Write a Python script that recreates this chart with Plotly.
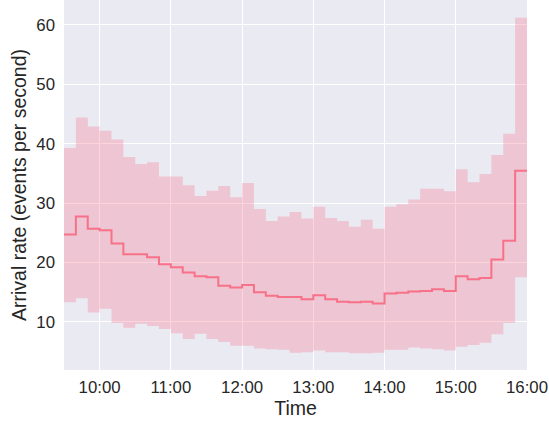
import plotly.graph_objects as go
import pandas as pd

bin_start = pd.date_range("2020-01-02 09:30", "2020-01-02 15:50", freq="10min")

mean_rate = [24.7, 27.75, 25.7, 25.45, 23.2, 21.4, 21.4, 20.9, 19.7, 19.2,
             18.3, 17.7, 17.5, 16.1, 15.8, 16.2, 15.0, 14.4, 14.2, 14.2,
             13.8, 14.5, 13.8, 13.4, 13.3, 13.4, 13.1, 14.8, 14.9, 15.1,
             15.2, 15.5, 15.2, 17.7, 17.2, 17.4, 20.5, 23.65, 35.45]
upper = [39.3, 44.4, 42.9, 42.2, 40.7, 37.75, 36.6, 36.9, 34.5, 34.5,
         33.0, 31.2, 32.1, 32.9, 31.0, 33.4, 29.0, 27.0, 27.75, 28.5,
         27.4, 29.4, 27.5, 27.0, 26.0, 27.2, 25.7, 29.4, 29.8, 30.6,
         32.4, 32.4, 32.0, 35.7, 33.5, 34.9, 38.1, 41.7, 61.2]
lower = [13.3, 14.0, 11.6, 12.2, 9.8, 9.0, 9.7, 9.3, 8.8, 8.1,
         7.1, 8.0, 7.1, 6.6, 6.0, 6.0, 5.5, 5.4, 5.3, 4.8,
         4.9, 5.2, 4.9, 4.9, 4.7, 4.7, 4.8, 5.3, 5.3, 5.7,
         5.5, 5.4, 5.2, 5.8, 6.1, 6.5, 7.9, 9.8, 17.5]

end_time = pd.Timestamp("2020-01-02 16:00")
x = list(bin_start) + [end_time]
def ext(v):
    return list(v) + [v[-1]]

line_color = "#f77189"
fill_color = "rgba(247,113,137,0.3)"

fig = go.Figure()
fig.add_trace(go.Scatter(x=x, y=ext(lower), mode="lines", line=dict(width=0, shape="hv"),
                         showlegend=False, hoverinfo="skip"))
fig.add_trace(go.Scatter(x=x, y=ext(upper), mode="lines", line=dict(width=0, shape="hv"),
                         fill="tonexty", fillcolor=fill_color, showlegend=False, hoverinfo="skip"))
fig.add_trace(go.Scatter(x=x, y=ext(mean_rate), mode="lines",
                         line=dict(color=line_color, width=2, shape="hv"), showlegend=False))

ff = "Liberation Sans, Arial, sans-serif"
fig.update_layout(
    width=549, height=421,
    margin=dict(l=64, r=22, t=0, b=51, pad=0),
    paper_bgcolor="white", plot_bgcolor="#EAEAF2",
    font=dict(family=ff, size=17, color="#262626"),
    xaxis=dict(
        range=[bin_start[0], end_time],
        tickformat="%H:%M", dtick=3600000, tick0="2020-01-02 10:00",
        showgrid=True, gridcolor="white", gridwidth=1.2, zeroline=False,
        showline=False, ticks="", ticklen=0, automargin=False,
        ticklabelstandoff=5,
        title=dict(text="Time", font=dict(size=19.5), standoff=2),
        tickfont=dict(size=16.8),
    ),
    yaxis=dict(
        range=[1.9, 64.2],
        tickvals=[10, 20, 30, 40, 50, 60],
        showgrid=True, gridcolor="white", gridwidth=1.2, zeroline=False,
        showline=False, ticks="", automargin=False,
        ticklabelstandoff=8,
        title=dict(text="Arrival rate (events per second)", font=dict(size=19.5), standoff=4),
        tickfont=dict(size=16.8),
    ),
)
fig.write_html("out.html", config={"displayModeBar": False},
               post_script="document.body.style.margin='0';document.body.style.padding='0';")
